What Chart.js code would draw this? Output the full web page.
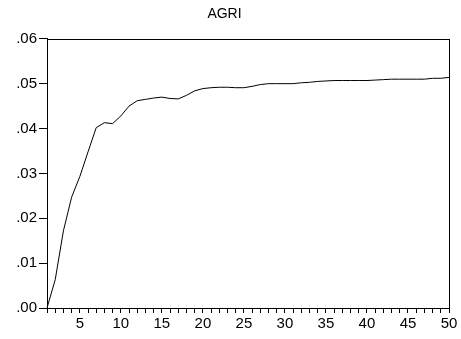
<!DOCTYPE html>
<html>
<head>
<meta charset="utf-8">
<script src="https://cdn.jsdelivr.net/npm/chart.js@4/dist/chart.umd.min.js"></script>
<style>
  html, body { margin: 0; padding: 0; background: #fff; }
  #wrap { width: 461px; height: 339px; }
</style>
</head>
<body>
<div id="wrap"><canvas id="c"></canvas></div>
<script>
// periods (horizon)
var periods = [1, 2, 3, 4, 5, 6, 7, 8, 9, 10,
               11, 12, 13, 14, 15, 16, 17, 18, 19, 20,
               21, 22, 23, 24, 25, 26, 27, 28, 29, 30,
               31, 32, 33, 34, 35, 36, 37, 38, 39, 40,
               41, 42, 43, 44, 45, 46, 47, 48, 49, 50];

// AGRI response
var agri = [0.0000, 0.0063, 0.0172, 0.0247, 0.0293, 0.0348, 0.0402, 0.0413, 0.0411, 0.0428,
            0.0450, 0.0462, 0.0465, 0.0468, 0.0470, 0.0467, 0.0466, 0.0474, 0.0484, 0.0489,
            0.0491, 0.0492, 0.0492, 0.0491, 0.0491, 0.0494, 0.0498, 0.0500, 0.0500, 0.0500,
            0.0500, 0.0502, 0.0503, 0.0505, 0.0506, 0.0507, 0.0507, 0.0507, 0.0507, 0.0507,
            0.0508, 0.0509, 0.0510, 0.0510, 0.0510, 0.0510, 0.0510, 0.0512, 0.0512, 0.0514];

var yTicks = [0, 0.01, 0.02, 0.03, 0.04, 0.05, 0.06];

var fontFam = '"Liberation Sans", Arial, sans-serif';

// frame around the plot area
var frame = {
    id: 'frame',
    afterDraw: function(chart) {
        var a = chart.chartArea, ctx = chart.ctx;
        ctx.save();
        ctx.strokeStyle = '#000';
        ctx.lineWidth = 1;
        ctx.strokeRect(Math.round(a.left) + 0.5, Math.round(a.top) + 0.5,
                       Math.round(a.right - a.left), Math.round(a.bottom - a.top));
        ctx.restore();
    }
};

new Chart(document.getElementById('c'), {
    type: 'line',
    data: {
        labels: periods,
        datasets: [{
            label: 'AGRI',
            data: agri,
            borderColor: '#000',
            borderWidth: 1,
            pointRadius: 0,
            tension: 0,
            fill: false
        }]
    },
    options: {
        responsive: true,
        maintainAspectRatio: false,
        animation: false,
        layout: { padding: { left: 0, right: 12, top: 0, bottom: 0 } },
        plugins: {
            legend: { display: false },
            tooltip: { enabled: false },
            title: {
                display: true,
                text: 'AGRI',
                color: '#000',
                font: { family: fontFam, size: 14, weight: 'normal', lineHeight: 1.2 },
                padding: { top: 6, bottom: 16 }
            }
        },
        scales: {
            x: {
                type: 'category',
                offset: false,
                grid: { drawOnChartArea: false, drawTicks: true, tickLength: 5, tickColor: '#000' },
                border: { display: true, color: '#000' },
                ticks: {
                    autoSkip: false,
                    maxRotation: 0,
                    padding: 2,
                    color: '#000',
                    font: { family: fontFam, size: 15 },
                    callback: function(val, i) {
                        var p = periods[i];
                        return p % 5 === 0 ? String(p) : '';
                    }
                },
                afterFit: function(s) { s.height = 31; }
            },
            y: {
                min: 0,
                max: 0.06,
                afterBuildTicks: function(s) {
                    s.ticks = yTicks.map(function(v) { return { value: v }; });
                },
                grid: { drawOnChartArea: false, drawTicks: true, tickLength: 8, tickColor: '#000' },
                border: { display: true, color: '#000' },
                ticks: {
                    padding: 2,
                    color: '#000',
                    font: { family: fontFam, size: 15 },
                    callback: function(v) { return '.' + (Math.round(v * 100) < 10 ? '0' : '') + Math.round(v * 100); }
                },
                afterFit: function(s) { s.width = 47; }
            }
        }
    },
    plugins: [frame]
});
</script>
</body>
</html>
